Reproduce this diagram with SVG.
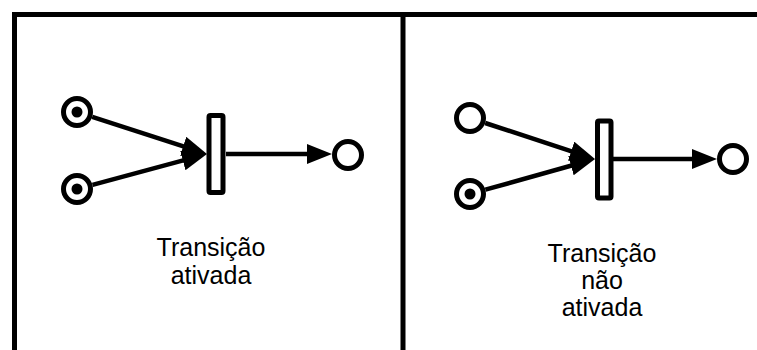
<svg xmlns="http://www.w3.org/2000/svg" width="757" height="350" viewBox="0 0 757 350">
  <style>
    .frame { fill: none; stroke: #000; stroke-width: 5; }
    .place { fill: #fff; stroke: #000; stroke-width: 5; }
    .token { fill: #000; }
    .trans { fill: #fff; stroke: #000; stroke-width: 5; }
    .arc { fill: none; stroke: #000; stroke-width: 4.5; marker-end: url(#head); }
    .label { font-family: "Liberation Sans", Arial, sans-serif; font-size: 25px; fill: #000; text-anchor: middle; }
  </style>
  <defs>
    <marker id="head" markerUnits="userSpaceOnUse" markerWidth="26" markerHeight="22" refX="10" refY="10" orient="auto" viewBox="0 0 26 22">
      <path d="M0,0 L25,10 L0,20 Z" fill="#000"/>
    </marker>
  </defs>

  <!-- panel borders -->
  <g id="frame">
    <path class="frame" d="M14.5,350 V14.5 H757"/>
    <line class="frame" x1="403" y1="14.5" x2="403" y2="350" stroke-width="5.5"/>
  </g>

  <!-- connectors -->
  <g id="connectors">
    <line class="arc" x1="92.2" y1="116.9" x2="192.7" y2="149.4"/>
    <line class="arc" x1="92.5" y1="184.8" x2="192.5" y2="157.9"/>
    <line class="arc" x1="226" y1="154" x2="317" y2="154"/>
    <line class="arc" x1="485.2" y1="123" x2="580.7" y2="154.3"/>
    <line class="arc" x1="485.4" y1="189.7" x2="580.6" y2="163"/>
    <line class="arc" x1="613" y1="159" x2="702" y2="159"/>
  </g>

  <!-- left: enabled transition -->
  <g id="p1-left">
    <circle class="place" cx="77" cy="112" r="13.5"/>
    <circle class="token" cx="77" cy="112" r="5.5"/>
  </g>
  <g id="p2-left">
    <circle class="place" cx="77" cy="189" r="13.5"/>
    <circle class="token" cx="77" cy="189" r="5.5"/>
  </g>
  <g id="t-left">
    <rect class="trans" x="209" y="115.5" width="14" height="77" rx="1.5"/>
  </g>
  <g id="p3-left">
    <circle class="place" cx="348" cy="155" r="13.5"/>
  </g>
  <g id="label-left">
    <text class="label" x="211" y="256">Transição</text>
    <text class="label" x="211" y="284">ativada</text>
  </g>

  <!-- right: transition not enabled -->
  <g id="p1-right">
    <circle class="place" cx="470" cy="118" r="13.5"/>
  </g>
  <g id="p2-right">
    <circle class="place" cx="470" cy="194" r="13.5"/>
    <circle class="token" cx="470" cy="194" r="5.5"/>
  </g>
  <g id="t-right">
    <rect class="trans" x="597.5" y="121" width="13.5" height="77" rx="1.5"/>
  </g>
  <g id="p3-right">
    <circle class="place" cx="733" cy="159" r="13.5"/>
  </g>
  <g id="label-right">
    <text class="label" x="602" y="262">Transição</text>
    <text class="label" x="602" y="289">não</text>
    <text class="label" x="602" y="316">ativada</text>
  </g>
</svg>
